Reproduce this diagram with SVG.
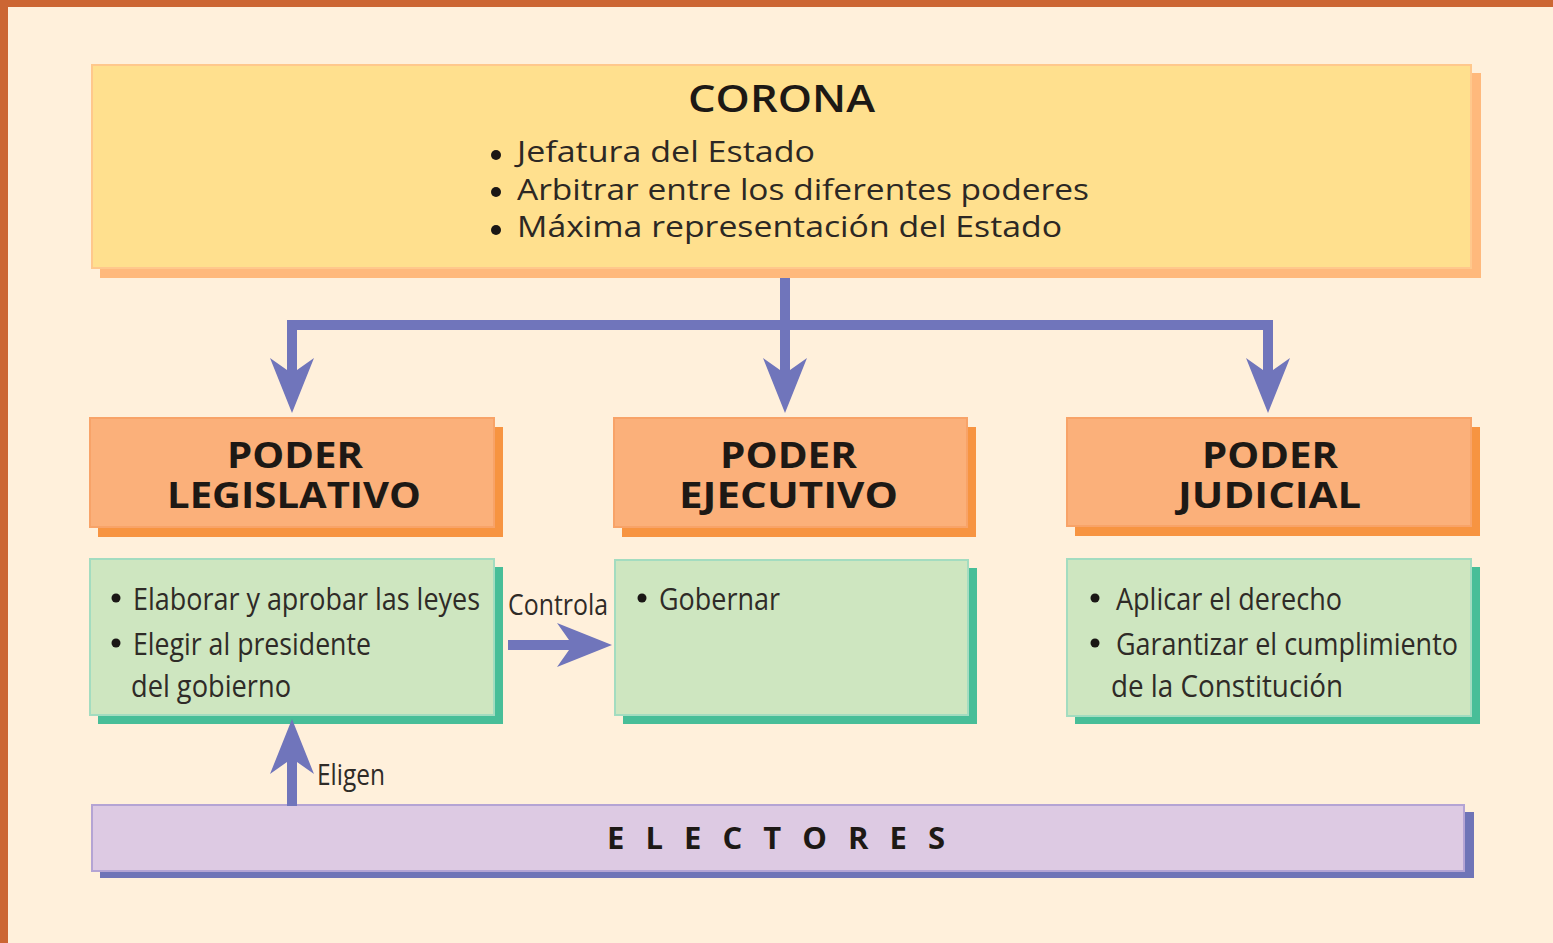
<svg xmlns="http://www.w3.org/2000/svg" width="1553" height="943" viewBox="0 0 1553 943">
  <style>
    .head { font-family: "Open Sans", "DejaVu Sans", sans-serif; font-weight: 700; fill: #1d1915; }
    .title { font-family: "Open Sans", "DejaVu Sans", sans-serif; font-weight: 600; fill: #1d1915; }
    .body { font-family: "Open Sans", "DejaVu Sans", sans-serif; font-weight: 400; fill: #2c2824; }
    .cond { font-family: "Open Sans", "DejaVu Sans", sans-serif; font-weight: 400; fill: #2f2b27; }
    .bullet { fill: #1a1715; }
    .line { fill: none; stroke: #7075bb; stroke-width: 10; stroke-linejoin: miter; }
    .arrowhead { fill: #7075bb; }
    .corona-sh { fill: #ffb97c; }
    .corona { fill: #ffe08e; stroke: #ffc88c; stroke-width: 2; }
    .poder-sh { fill: #f79441; }
    .poder { fill: #fbb07a; stroke: #f8a368; stroke-width: 2; }
    .green-sh { fill: #48be98; }
    .green { fill: #cee6c0; stroke: #a3dcc0; stroke-width: 2; }
    .purple-sh { fill: #6f74b7; }
    .purple { fill: #ddcae3; stroke: #b4a4d4; stroke-width: 2; }
  </style>
  <defs>
    <path id="ah" d="M0 0 L-22 -55 L-5 -43 L5 -43 L22 -55 Z"/>
  </defs>

  <!-- background and frame -->
  <rect x="0" y="0" width="1553" height="943" fill="#fff0db"/>
  <rect x="0" y="0" width="1553" height="7" fill="#cc6633"/>
  <rect x="0" y="0" width="8" height="943" fill="#cc6633"/>

  <g id="corona">
    <rect class="corona-sh" x="100" y="73" width="1381" height="205"/>
    <rect class="corona" x="92" y="65" width="1379" height="203"/>
    <text class="title" x="688" y="112" font-size="38" textLength="187" lengthAdjust="spacingAndGlyphs">CORONA</text>
    <circle class="bullet" cx="496" cy="155" r="5"/>
    <text class="body" x="517" y="162" font-size="29" textLength="298" lengthAdjust="spacingAndGlyphs">Jefatura del Estado</text>
    <circle class="bullet" cx="496" cy="192" r="5"/>
    <text class="body" x="517" y="200" font-size="29" textLength="572" lengthAdjust="spacingAndGlyphs">Arbitrar entre los diferentes poderes</text>
    <circle class="bullet" cx="496" cy="230" r="5"/>
    <text class="body" x="517" y="237" font-size="29" textLength="545" lengthAdjust="spacingAndGlyphs">Máxima representación del Estado</text>
  </g>

  <g id="poder-legislativo">
    <rect class="poder-sh" x="98" y="427" width="405" height="110"/>
    <rect class="poder" x="90" y="418" width="404" height="109"/>
    <text class="head" x="227" y="468" font-size="35" textLength="136" lengthAdjust="spacingAndGlyphs">PODER</text>
    <text class="head" x="167" y="508" font-size="35" textLength="254" lengthAdjust="spacingAndGlyphs">LEGISLATIVO</text>
  </g>

  <g id="poder-ejecutivo">
    <rect class="poder-sh" x="622" y="427" width="354" height="110"/>
    <rect class="poder" x="614" y="418" width="353" height="109"/>
    <text class="head" x="720" y="468" font-size="35" textLength="137" lengthAdjust="spacingAndGlyphs">PODER</text>
    <text class="head" x="679" y="508" font-size="35" textLength="219" lengthAdjust="spacingAndGlyphs">EJECUTIVO</text>
  </g>

  <g id="poder-judicial">
    <rect class="poder-sh" x="1075" y="427" width="405" height="109"/>
    <rect class="poder" x="1067" y="418" width="404" height="108"/>
    <text class="head" x="1202" y="468" font-size="35" textLength="136" lengthAdjust="spacingAndGlyphs">PODER</text>
    <text class="head" x="1178" y="508" font-size="35" textLength="183" lengthAdjust="spacingAndGlyphs">JUDICIAL</text>
  </g>

  <g id="funciones-legislativo">
    <rect class="green-sh" x="98" y="567" width="405" height="157"/>
    <rect class="green" x="90" y="559" width="404" height="156"/>
    <circle class="bullet" cx="116" cy="598" r="4.5"/>
    <text class="cond" x="133" y="610" font-size="31" textLength="347" lengthAdjust="spacingAndGlyphs">Elaborar y aprobar las leyes</text>
    <circle class="bullet" cx="116" cy="643" r="4.5"/>
    <text class="cond" x="133" y="655" font-size="31" textLength="238" lengthAdjust="spacingAndGlyphs">Elegir al presidente</text>
    <text class="cond" x="131" y="697" font-size="31" textLength="160" lengthAdjust="spacingAndGlyphs">del gobierno</text>
  </g>

  <g id="funciones-ejecutivo">
    <rect class="green-sh" x="623" y="568" width="354" height="156"/>
    <rect class="green" x="615" y="560" width="353" height="155"/>
    <circle class="bullet" cx="642" cy="598" r="4.5"/>
    <text class="cond" x="659" y="610" font-size="31" textLength="121" lengthAdjust="spacingAndGlyphs">Gobernar</text>
  </g>

  <g id="funciones-judicial">
    <rect class="green-sh" x="1075" y="567" width="405" height="157"/>
    <rect class="green" x="1067" y="559" width="404" height="157"/>
    <circle class="bullet" cx="1095" cy="598" r="4.5"/>
    <text class="cond" x="1116" y="610" font-size="31" textLength="226" lengthAdjust="spacingAndGlyphs">Aplicar el derecho</text>
    <circle class="bullet" cx="1095" cy="643" r="4.5"/>
    <text class="cond" x="1116" y="655" font-size="31" textLength="342" lengthAdjust="spacingAndGlyphs">Garantizar el cumplimiento</text>
    <text class="cond" x="1111" y="697" font-size="31" textLength="232" lengthAdjust="spacingAndGlyphs">de la Constitución</text>
  </g>

  <g id="electores">
    <rect class="purple-sh" x="100" y="812" width="1374" height="66"/>
    <rect class="purple" x="92" y="805" width="1372" height="66"/>
    <text class="head" x="607" y="849" font-size="31" font-weight="600" textLength="338" lengthAdjust="spacing">ELECTORES</text>
  </g>

  <g id="connectors">
    <path class="line" d="M785 278 V376"/>
    <path class="line" d="M292 376 V325 H1268 V376"/>
    <use href="#ah" class="arrowhead" transform="translate(292 413)"/>
    <use href="#ah" class="arrowhead" transform="translate(785 413)"/>
    <use href="#ah" class="arrowhead" transform="translate(1268 413)"/>
    <path class="line" d="M292 806 V760"/>
    <use href="#ah" class="arrowhead" transform="translate(292 719) rotate(180)"/>
    <path class="line" d="M508 645 H572"/>
    <use href="#ah" class="arrowhead" transform="translate(612 645) rotate(-90)"/>
    <text class="cond" x="317" y="785" font-size="30" textLength="68" lengthAdjust="spacingAndGlyphs">Eligen</text>
    <text class="cond" x="508" y="615" font-size="30" textLength="100" lengthAdjust="spacingAndGlyphs">Controla</text>
  </g>
</svg>
